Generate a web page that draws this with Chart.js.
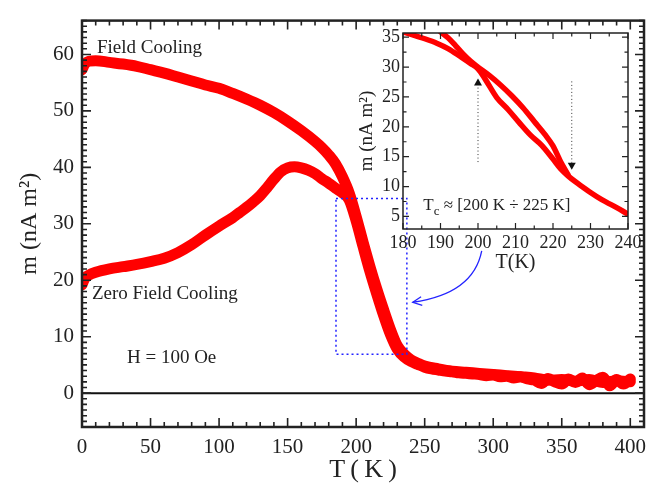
<!DOCTYPE html>
<html>
<head>
<meta charset="utf-8">
<script src="https://cdn.jsdelivr.net/npm/chart.js@4.4.1/dist/chart.umd.min.js"></script>
<style>
  body { margin: 0; background: #fff; }
  #wrap { position: relative; width: 657px; height: 486px; }
  #wrap canvas { position: absolute; left: 0; top: 0; }
</style>
</head>
<body>
<div id="wrap">
  <canvas id="mainChart" width="657" height="486"></canvas>
  <canvas id="insetChart" width="657" height="486"></canvas>
</div>
<script>
/* ==========================================================
   Magnetization vs temperature (FC / ZFC) with Tc inset
==========================================================*/

// ---------- main panel data ----------
const xTicks = [0, 50, 100, 150, 200, 250, 300, 350, 400];
const yTicks = [0, 10, 20, 30, 40, 50, 60];

const fcT = [0, 2, 5, 10, 20, 30, 40, 50, 60, 70, 80, 90, 100, 110, 120, 130, 140, 150, 160, 170, 175, 180, 185, 190, 195, 200, 205, 210, 215, 220, 225, 230, 235, 240, 245, 250, 260, 270, 280, 290, 300, 310, 320, 330, 340, 350, 360, 370, 380, 390, 400];
const fcM = [57.3, 58.3, 58.8, 58.9, 58.6, 58.3, 57.9, 57.3, 56.7, 56.0, 55.3, 54.6, 54.0, 53.1, 52.1, 51.0, 49.7, 48.2, 46.5, 44.6, 43.5, 42.2, 40.6, 38.3, 35.4, 31.3, 26.8, 22.5, 18.5, 14.8, 11.3, 8.4, 6.9, 5.9, 5.3, 4.8, 4.3, 3.9, 3.7, 3.5, 3.3, 3.1, 2.9, 2.7, 2.3, 2.4, 2.1, 2.4, 1.9, 2.2, 2.0];

const zfcT = [0, 2, 5, 10, 20, 30, 40, 50, 60, 70, 80, 90, 100, 110, 115, 120, 125, 130, 135, 140, 145, 150, 155, 160, 165, 170, 175, 180, 185, 190, 195, 200, 205, 210, 215, 220, 225, 230, 235, 240, 245, 250, 255, 260, 265, 270, 275, 280, 285, 290, 295, 300, 305, 310, 315, 320, 325, 330, 335, 340, 345, 350, 355, 360, 365, 370, 375, 380, 385, 390, 395, 400];
const zfcM = [19.2, 20.3, 20.9, 21.4, 22.0, 22.4, 22.8, 23.3, 23.9, 24.9, 26.3, 28.0, 29.6, 31.1, 32.0, 32.9, 33.9, 35.0, 36.4, 37.9, 39.2, 39.9, 40.1, 39.9, 39.5, 38.9, 38.0, 37.2, 36.3, 35.5, 34.2, 30.5, 26.0, 21.6, 17.6, 13.8, 10.4, 7.8, 6.4, 5.6, 5.1, 4.6, 4.3, 4.1, 3.9, 3.8, 3.6, 3.5, 3.4, 3.3, 3.1, 3.2, 2.9, 3.0, 2.7, 2.9, 2.5, 2.3, 1.7, 2.6, 2.0, 1.6, 2.5, 1.9, 2.7, 1.5, 2.2, 2.8, 1.3, 2.4, 1.6, 2.5];

// ---------- inset data ----------
const insetXTicks = [180, 190, 200, 210, 220, 230, 240];
const insetYTicks = [5, 10, 15, 20, 25, 30, 35];

const insetT1 = [180, 183, 186, 189, 192, 195, 198, 200, 202, 205, 208, 211, 214, 217, 220, 222, 224, 226, 228, 230, 233, 236, 240];
const insetM1 = [35.9, 35.3, 34.7, 34.0, 33.1, 31.9, 30.6, 29.7, 27.9, 24.9, 22.9, 20.7, 18.6, 16.9, 14.6, 13.0, 11.8, 10.8, 9.9, 9.0, 7.8, 6.8, 5.4];

const insetT2 = [190, 192, 194, 196, 198, 200, 203, 206, 209, 212, 215, 218, 220, 222, 224];
const insetM2 = [35.9, 34.9, 33.6, 32.2, 31.0, 30.0, 28.6, 27.0, 25.2, 23.2, 20.9, 18.6, 16.8, 14.2, 12.0];

// ---------- annotations (data coordinates) ----------
const zoomBox = { x0: 185.3, x1: 237, y0: 6.9, y1: 34.5 };
const blueArrow = { from: [291.6, 25.2], ctrl: [285.5, 17.6], to: [241.3, 16.1] };
const mainNotes = [
    { text: "Field Cooling", x: 10.9, y: 61.2 },
    { text: "Zero Field Cooling", x: 7.3, y: 17.6 },
    { text: "H = 100 Oe", x: 32.8, y: 6.2 }
];
const tcMarks = [
    { x: 200, lineFrom: 14.1, lineTo: 26.9, dir: "up" },
    { x: 225, lineFrom: 27.6, lineTo: 14.0, dir: "down" }
];
const tcNote = { x: 185.4, y: 6.9 };

const SERIF = '"Liberation Serif", "Times New Roman", serif';
const INK = "#222";

const toXY = (xs, ys) => xs.map((v, i) => ({ x: v, y: ys[i] }));

// inward major / minor ticks on all four sides
function inwardTicks(chart, o) {
    const { ctx, chartArea: a, scales: { x, y } } = chart;
    ctx.save();
    ctx.strokeStyle = INK;
    ctx.lineWidth = o.tickWidth;
    ctx.beginPath();
    for (let v = o.xStart; v <= x.max + 1e-6; v += o.xMinor) {
        const px = x.getPixelForValue(v);
        const len = Math.abs(v / o.xMajor - Math.round(v / o.xMajor)) < 1e-6 ? o.major : o.minor;
        ctx.moveTo(px, a.bottom); ctx.lineTo(px, a.bottom - len);
        ctx.moveTo(px, a.top); ctx.lineTo(px, a.top + len);
    }
    for (let v = o.yStart; v <= y.max + 1e-6; v += o.yMinor) {
        const py = y.getPixelForValue(v);
        const len = Math.abs(v / o.yMajor - Math.round(v / o.yMajor)) < 1e-6 ? o.major : o.minor;
        ctx.moveTo(a.left, py); ctx.lineTo(a.left + len, py);
        ctx.moveTo(a.right, py); ctx.lineTo(a.right - len, py);
    }
    ctx.stroke();
    ctx.lineWidth = o.frameWidth;
    ctx.strokeRect(a.left, a.top, a.right - a.left, a.bottom - a.top);
    ctx.restore();
}

// =====================================
// Main chart
// =====================================

const mainDecor = {
    id: "mainDecor",
    beforeDatasetsDraw(chart) {
        const { ctx, chartArea: a, scales: { y } } = chart;
        ctx.save();
        ctx.strokeStyle = "#111";
        ctx.lineWidth = 2;
        ctx.beginPath();
        ctx.moveTo(a.left, y.getPixelForValue(0));
        ctx.lineTo(a.right, y.getPixelForValue(0));
        ctx.stroke();
        ctx.restore();
    },
    afterDatasetsDraw(chart) {
        const { ctx, scales: { x, y } } = chart;
        inwardTicks(chart, {
            xStart: 0, xMinor: 10, xMajor: 50,
            yStart: -6, yMinor: 1, yMajor: 10,
            major: 9, minor: 5, tickWidth: 1.6, frameWidth: 2.5
        });

        ctx.save();
        // dotted zoom box
        ctx.strokeStyle = "#2323ff";
        ctx.lineWidth = 1.5;
        ctx.setLineDash([2, 3]);
        const bx0 = x.getPixelForValue(zoomBox.x0), bx1 = x.getPixelForValue(zoomBox.x1);
        const by0 = y.getPixelForValue(zoomBox.y0), by1 = y.getPixelForValue(zoomBox.y1);
        ctx.strokeRect(bx0, by1, bx1 - bx0, by0 - by1);

        // curved arrow
        ctx.setLineDash([]);
        ctx.lineWidth = 1.3;
        const p0 = [x.getPixelForValue(blueArrow.from[0]), y.getPixelForValue(blueArrow.from[1])];
        const pc = [x.getPixelForValue(blueArrow.ctrl[0]), y.getPixelForValue(blueArrow.ctrl[1])];
        const p1 = [x.getPixelForValue(blueArrow.to[0]), y.getPixelForValue(blueArrow.to[1])];
        ctx.beginPath();
        ctx.moveTo(p0[0], p0[1]);
        ctx.quadraticCurveTo(pc[0], pc[1], p1[0], p1[1]);
        ctx.stroke();
        const ang = Math.atan2(p1[1] - pc[1], p1[0] - pc[0]);
        ctx.beginPath();
        ctx.moveTo(p1[0] - 10 * Math.cos(ang - 0.45), p1[1] - 10 * Math.sin(ang - 0.45));
        ctx.lineTo(p1[0], p1[1]);
        ctx.lineTo(p1[0] - 10 * Math.cos(ang + 0.45), p1[1] - 10 * Math.sin(ang + 0.45));
        ctx.stroke();

        // notes
        ctx.fillStyle = INK;
        ctx.font = "19px " + SERIF;
        ctx.textBaseline = "middle";
        mainNotes.forEach(n => {
            ctx.fillText(n.text, x.getPixelForValue(n.x), y.getPixelForValue(n.y));
        });
        ctx.restore();
    }
};

const redLine = (label, pts, width) => ({
    label,
    data: pts,
    borderColor: "#ff0000",
    borderWidth: width,
    pointRadius: 0,
    borderJoinStyle: "round",
    borderCapStyle: "round",
    cubicInterpolationMode: "monotone"
});

new Chart(document.getElementById("mainChart"), {
    type: "line",
    data: {
        datasets: [
            redLine("Zero Field Cooling", toXY(zfcT, zfcM), 11),
            redLine("Field Cooling", toXY(fcT, fcM), 11)
        ]
    },
    options: {
        responsive: false,
        animation: false,
        devicePixelRatio: 1,
        layout: { padding: { left: 0, right: 13, top: 13, bottom: 0 } },
        plugins: { legend: { display: false }, tooltip: { enabled: false } },
        scales: {
            x: {
                type: "linear",
                min: 0,
                max: 410,
                afterBuildTicks: s => { s.ticks = xTicks.map(v => ({ value: v })); },
                afterFit: s => { s.height = 59; },
                grid: { display: false, drawTicks: false },
                border: { display: false },
                ticks: { padding: 8, color: INK, font: { family: SERIF, size: 21 }, maxRotation: 0 },
                title: { display: true, text: "T\u2009(\u2009K\u2009)", color: INK, font: { family: SERIF, size: 26 }, padding: { top: 0, bottom: 0 } }
            },
            y: {
                type: "linear",
                min: -6,
                max: 66,
                afterBuildTicks: s => { s.ticks = yTicks.map(v => ({ value: v })); },
                afterFit: s => { s.width = 82; },
                grid: { display: false, drawTicks: false },
                border: { display: false },
                ticks: { padding: 8, color: INK, font: { family: SERIF, size: 21 } },
                title: { display: true, text: "m (nA m²)", color: INK, font: { family: SERIF, size: 24 }, padding: { top: 15, bottom: 0 } }
            }
        }
    },
    plugins: [mainDecor]
});

// =====================================
// Inset chart
// =====================================

const insetDecor = {
    id: "insetDecor",
    afterDatasetsDraw(chart) {
        const { ctx, scales: { x, y } } = chart;
        inwardTicks(chart, {
            xStart: 180, xMinor: 5, xMajor: 10,
            yStart: 5, yMinor: 2.5, yMajor: 5,
            major: 6, minor: 3.5, tickWidth: 1.2, frameWidth: 1.5
        });

        ctx.save();
        ctx.strokeStyle = "#333";
        ctx.fillStyle = "#111";
        ctx.lineWidth = 1;
        tcMarks.forEach(m => {
            const px = x.getPixelForValue(m.x);
            const ya = y.getPixelForValue(m.lineFrom), yb = y.getPixelForValue(m.lineTo);
            ctx.setLineDash([1, 2.5]);
            ctx.beginPath();
            ctx.moveTo(px, ya);
            ctx.lineTo(px, yb);
            ctx.stroke();
            ctx.setLineDash([]);
            const s = m.dir === "up" ? -1 : 1;
            ctx.beginPath();
            ctx.moveTo(px, yb + s * 7);
            ctx.lineTo(px - 4, yb);
            ctx.lineTo(px + 4, yb);
            ctx.closePath();
            ctx.fill();
        });

        // Tc note
        ctx.fillStyle = INK;
        ctx.textBaseline = "middle";
        let tx = x.getPixelForValue(tcNote.x);
        const ty = y.getPixelForValue(tcNote.y);
        ctx.font = "17px " + SERIF;
        ctx.fillText("T", tx, ty);
        tx += ctx.measureText("T").width;
        ctx.font = "13px " + SERIF;
        ctx.fillText("c", tx, ty + 6);
        tx += ctx.measureText("c").width;
        ctx.font = "17px " + SERIF;
        ctx.fillText(" ≈ [200 K ÷ 225 K]", tx, ty);
        ctx.restore();
    }
};

const insetLine = (label, pts) => Object.assign(redLine(label, pts, 5.5), { clip: 0 });

new Chart(document.getElementById("insetChart"), {
    type: "line",
    data: {
        datasets: [
            insetLine("inset 1", toXY(insetT1, insetM1)),
            insetLine("inset 2", toXY(insetT2, insetM2))
        ]
    },
    options: {
        responsive: false,
        animation: false,
        devicePixelRatio: 1,
        events: [],
        layout: { padding: { left: 353, right: 29, top: 33, bottom: 211 } },
        plugins: { legend: { display: false }, tooltip: { enabled: false } },
        scales: {
            x: {
                type: "linear",
                min: 180,
                max: 240,
                afterBuildTicks: s => { s.ticks = insetXTicks.map(v => ({ value: v })); },
                afterFit: s => { s.height = 46; },
                grid: { display: false, drawTicks: false },
                border: { display: false },
                ticks: { padding: 3, color: INK, font: { family: SERIF, size: 18 }, maxRotation: 0 },
                title: { display: true, text: "T(K)", color: INK, font: { family: SERIF, size: 20 }, padding: { top: 0, bottom: 0 } }
            },
            y: {
                type: "linear",
                min: 2.9,
                max: 35.7,
                afterBuildTicks: s => { s.ticks = insetYTicks.map(v => ({ value: v })); },
                afterFit: s => { s.width = 50; },
                grid: { display: false, drawTicks: false },
                border: { display: false },
                ticks: { padding: 3, color: INK, font: { family: SERIF, size: 18 } },
                title: { display: true, text: "m (nA m²)", color: INK, font: { family: SERIF, size: 19 }, padding: { top: 3, bottom: 0 } }
            }
        }
    },
    plugins: [insetDecor]
});
</script>
</body>
</html>
